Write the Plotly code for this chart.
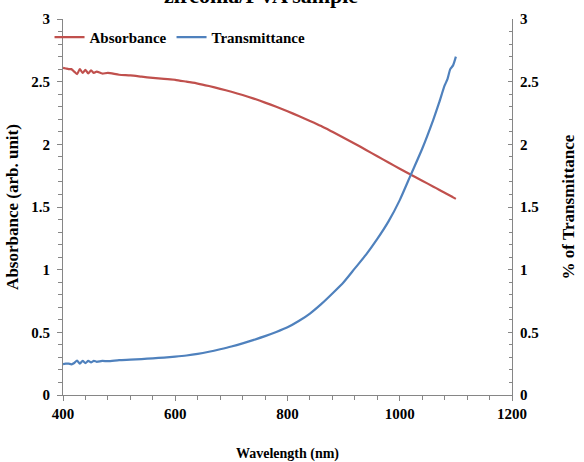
import plotly.graph_objects as go

wavelength = [400, 405, 410, 415, 420, 425, 430, 435, 440, 445, 450, 455, 460, 470, 480,
              500, 520, 540, 560, 580, 600, 620, 640, 660, 680, 700, 720, 740, 760, 780,
              800, 820, 840, 860, 880, 900, 920, 940, 960, 980, 1000, 1020, 1040, 1060,
              1070, 1080, 1085, 1090, 1095, 1100]

absorbance = [2.61, 2.605, 2.60, 2.60, 2.58, 2.56, 2.60, 2.57, 2.595, 2.565, 2.59, 2.57, 2.58, 2.565, 2.57,
              2.555, 2.55, 2.54, 2.53, 2.522, 2.515, 2.50, 2.485, 2.465, 2.443, 2.42, 2.394, 2.365, 2.333, 2.30,
              2.264, 2.226, 2.187, 2.146, 2.10, 2.053, 2.005, 1.955, 1.905, 1.855, 1.805, 1.757, 1.71, 1.662,
              1.638, 1.614, 1.602, 1.59, 1.577, 1.565]

transmittance = [0.247, 0.25, 0.25, 0.245, 0.255, 0.275, 0.25, 0.272, 0.255, 0.272, 0.26, 0.272, 0.265, 0.272, 0.27,
                 0.278, 0.282, 0.287, 0.293, 0.299, 0.306, 0.315, 0.328, 0.345, 0.365, 0.387, 0.412, 0.44, 0.47, 0.503,
                 0.54, 0.59, 0.65, 0.725, 0.81, 0.90, 1.01, 1.12, 1.245, 1.385, 1.555, 1.76, 1.965, 2.20,
                 2.33, 2.47, 2.52, 2.60, 2.63, 2.70]

FONT = "Liberation Serif"
AXC = "#868686"

fig = go.Figure()
fig.add_trace(go.Scatter(x=wavelength, y=absorbance, mode="lines", name="Absorbance",
                         line=dict(color="#C0504D", width=2.2, shape="spline", smoothing=0.6)))
fig.add_trace(go.Scatter(x=wavelength, y=transmittance, mode="lines", name="Transmittance",
                         line=dict(color="#4F81BD", width=2.2, shape="spline", smoothing=0.6), yaxis="y2"))

tickfont = dict(family=FONT, size=15, color="black", weight="bold")
xtitlefont = dict(family=FONT, size=14, color="black", weight="bold")
ytitlefont = dict(family=FONT, size=17, color="black", weight="bold")

fig.update_layout(
    width=584, height=462,
    margin=dict(l=63, r=72, t=19, b=67, autoexpand=False),
    paper_bgcolor="white", plot_bgcolor="white",
    showlegend=True,
    legend=dict(orientation="h", x=-0.03, y=0.995, xanchor="left", yanchor="top",
                font=dict(family=FONT, size=15, color="black", weight="bold"),
                bgcolor="rgba(0,0,0,0)", itemwidth=30, tracegroupgap=0),
    xaxis=dict(range=[400, 1200], tickvals=[400, 600, 800, 1000, 1200], showgrid=False, zeroline=False,
               showline=True, linecolor=AXC, linewidth=1, ticks="outside", ticklen=5, tickcolor=AXC,
               minor=dict(dtick=40, ticks="outside", ticklen=4, tickcolor=AXC, showgrid=False),
               tickfont=tickfont,
               title=dict(text="Wavelength (nm)", font=xtitlefont, standoff=27)),
    yaxis=dict(range=[0, 3], dtick=0.5, showgrid=False, zeroline=False,
               showline=True, linecolor=AXC, linewidth=1, ticks="outside", ticklen=5, tickcolor=AXC,
               minor=dict(dtick=0.1, ticks="outside", ticklen=4, tickcolor=AXC, showgrid=False),
               tickfont=tickfont, ticklabelstandoff=4,
               title=dict(text="Absorbance (arb. unit)", font=ytitlefont, standoff=8)),
    yaxis2=dict(range=[0, 3], dtick=0.5, overlaying="y", side="right", showgrid=False, zeroline=False,
                showline=True, linecolor=AXC, linewidth=1, ticks="inside", ticklen=4, tickcolor=AXC,
                minor=dict(dtick=0.1, ticks="inside", ticklen=3, tickcolor=AXC, showgrid=False),
                tickfont=tickfont, ticklabelstandoff=4,
                title=dict(text="% of Transmittance", font=ytitlefont, standoff=24)),
    annotations=[dict(text="zirconia/PVA sample", xref="paper", yref="paper", x=(261 - 63) / 449,
                      y=(395 - 10) / 376, xanchor="center", yanchor="bottom", showarrow=False,
                      font=dict(family=FONT, size=22, color="black", weight="bold"))],
)

fig.write_html("out.html")
